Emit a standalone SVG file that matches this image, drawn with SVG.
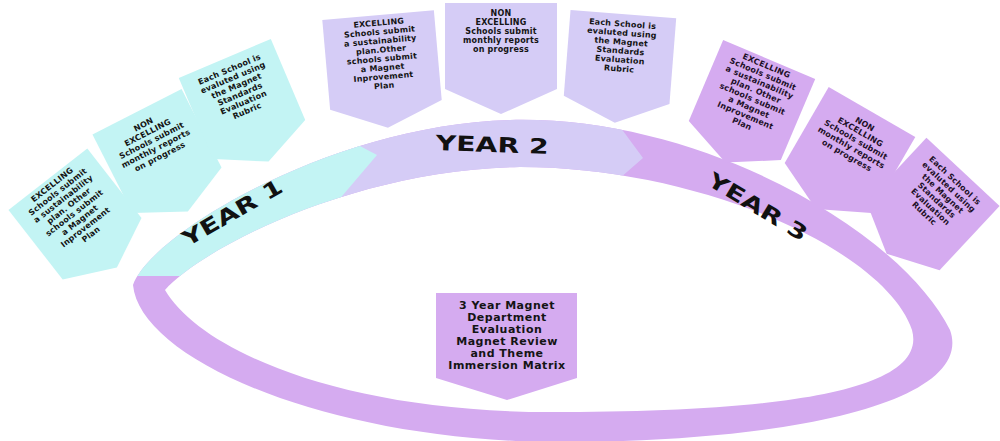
<svg xmlns="http://www.w3.org/2000/svg" width="1000" height="441" viewBox="0 0 1000 441">
<style>
.cy{fill:#c3f4f4}
.lv{fill:#d5ccf6}
.pu{fill:#d5abf0}
.t{font-family:"DejaVu Sans","Liberation Sans",sans-serif;font-weight:bold;font-size:8px;letter-spacing:0.2px;fill:#141414;text-anchor:middle}
.t3{fill:#1e1028}
.tc{font-family:"DejaVu Sans","Liberation Sans",sans-serif;font-weight:bold;font-size:11px;letter-spacing:0.5px;fill:#141414;text-anchor:middle}
.yr{font-family:"DejaVu Sans","Liberation Sans",sans-serif;font-weight:bold;font-size:21px;fill:#111;text-anchor:middle}
</style>
<defs>
<path id="ringPath" fill-rule="evenodd" d="M133,285 C150,235 330,125 510,120 C700,115 900,230 950,330 C975,400 800,442 560,442 C330,442 140,360 133,285 Z M165,290 C200,250 350,170 520,167 C700,167 885,250 912,330 C930,395 760,412 550,412 C340,412 200,350 165,290 Z"/>
<clipPath id="ringClip"><use href="#ringPath" clip-rule="evenodd"/></clipPath>
<polygon id="boxN" points="-50,-44 50,-44 50,44 0,68 -50,44"/>
</defs>
<rect width="1000" height="441" fill="#ffffff"/>

<g id="connectors">
<g id="timeline-ring">
<use href="#ringPath" class="pu"/>
<g clip-path="url(#ringClip)">
<polygon class="lv" points="320,60 600,60 600,100 615,120 643,158 620,178 600,260 320,260"/>
<polygon class="cy" points="40,276 240,276 320,222 377,155 320,125 250,60 40,60"/>
</g>
</g>
</g>

<g id="label-year1"><text class="yr" transform="translate(236,219) rotate(-30)" textLength="112" lengthAdjust="spacingAndGlyphs">YEAR 1</text></g>
<g id="label-year2"><text class="yr" transform="translate(492,152) rotate(2)" textLength="113" lengthAdjust="spacingAndGlyphs">YEAR 2</text></g>
<g id="label-year3"><text class="yr" transform="translate(754,213) rotate(31)" textLength="112" lengthAdjust="spacingAndGlyphs">YEAR 3</text></g>

<!-- Year 1 boxes -->
<g id="y1-excelling" transform="translate(75,214) rotate(-38)">
<use href="#boxN" class="cy"/>
<text class="t"><tspan x="0" y="-34.5">EXCELLING</tspan><tspan x="0" y="-25.5">Schools submit</tspan><tspan x="0" y="-16.5">a sustainability</tspan><tspan x="0" y="-7.5">plan. Other</tspan><tspan x="0" y="1.5">schools submit</tspan><tspan x="0" y="10.5">a Magnet</tspan><tspan x="0" y="19.5">Inprovement</tspan><tspan x="0" y="28.5">Plan</tspan></text>
</g>
<g id="y1-nonexcelling" transform="translate(157,151) rotate(-27)">
<use href="#boxN" class="cy"/>
<text class="t"><tspan x="0" y="-27">NON</tspan><tspan x="0" y="-18">EXCELLING</tspan><tspan x="0" y="-9">Schools submit</tspan><tspan x="0" y="0">monthly reports</tspan><tspan x="0" y="9">on progress</tspan></text>
</g>
<g id="y1-evaluated" transform="translate(242,99) rotate(-23)">
<use href="#boxN" class="cy"/>
<text class="t"><tspan x="0" y="-29.5">Each School is</tspan><tspan x="0" y="-20.5">evaluted using</tspan><tspan x="0" y="-11.5">the Magnet</tspan><tspan x="0" y="-2.5">Standards</tspan><tspan x="0" y="6.5">Evaluation</tspan><tspan x="0" y="15.5">Rubric</tspan></text>
</g>

<!-- Year 2 boxes -->
<g id="y2-excelling" transform="translate(382,60) rotate(-5)">
<polygon class="lv" points="-56,-45 56,-45 56,45 0,68 -56,45"/>
<text class="t"><tspan x="0" y="-34.5">EXCELLING</tspan><tspan x="0" y="-25.5">Schools submit</tspan><tspan x="0" y="-16.5">a sustainability</tspan><tspan x="0" y="-7.5">plan.Other</tspan><tspan x="0" y="1.5">schools submit</tspan><tspan x="0" y="10.5">a Magnet</tspan><tspan x="0" y="19.5">Inprovement</tspan><tspan x="0" y="28.5">Plan</tspan></text>
</g>
<g id="y2-nonexcelling" transform="translate(501,46)">
<polygon class="lv" points="-56,-43 56,-43 56,43 0,68 -56,43"/>
<text class="t"><tspan x="0" y="-30">NON</tspan><tspan x="0" y="-21">EXCELLING</tspan><tspan x="0" y="-12">Schools submit</tspan><tspan x="0" y="-3">monthly reports</tspan><tspan x="0" y="6">on progress</tspan></text>
</g>
<g id="y2-evaluated" transform="translate(620,57) rotate(4.5)">
<polygon class="lv" points="-53,-43 53,-43 53,43 0,66 -53,43"/>
<text class="t"><tspan x="0" y="-30.5">Each School is</tspan><tspan x="0" y="-21.5">evaluted using</tspan><tspan x="0" y="-12.5">the Magnet</tspan><tspan x="0" y="-3.5">Standards</tspan><tspan x="0" y="5.5">Evaluation</tspan><tspan x="0" y="14.5">Rubric</tspan></text>
</g>

<!-- Year 3 boxes -->
<g id="y3-excelling" transform="translate(752,100) rotate(23)">
<use href="#boxN" class="pu"/>
<text class="t t3"><tspan x="0" y="-34.5">EXCELLING</tspan><tspan x="0" y="-25.5">Schools submit</tspan><tspan x="0" y="-16.5">a sustainability</tspan><tspan x="0" y="-7.5">plan. Other</tspan><tspan x="0" y="1.5">schools submit</tspan><tspan x="0" y="10.5">a Magnet</tspan><tspan x="0" y="19.5">Inprovement</tspan><tspan x="0" y="28.5">Plan</tspan></text>
</g>
<g id="y3-nonexcelling" transform="translate(850,150) rotate(30)">
<use href="#boxN" class="pu"/>
<text class="t t3"><tspan x="0" y="-27">NON</tspan><tspan x="0" y="-18">EXCELLING</tspan><tspan x="0" y="-9">Schools submit</tspan><tspan x="0" y="0">monthly reports</tspan><tspan x="0" y="9">on progress</tspan></text>
</g>
<g id="y3-evaluated" transform="translate(933,204) rotate(43)">
<use href="#boxN" class="pu"/>
<text class="t t3"><tspan x="0" y="-29.5">Each School is</tspan><tspan x="0" y="-20.5">evaluted using</tspan><tspan x="0" y="-11.5">the Magnet</tspan><tspan x="0" y="-2.5">Standards</tspan><tspan x="0" y="6.5">Evaluation</tspan><tspan x="0" y="15.5">Rubric</tspan></text>
</g>

<!-- Center box -->
<g id="center-evaluation">
<polygon class="pu" points="436,293 577,293 577,378 507,400 436,378"/>
<text class="tc"><tspan x="507" y="309">3 Year Magnet</tspan><tspan x="507" y="321">Department</tspan><tspan x="507" y="333">Evaluation</tspan><tspan x="507" y="345">Magnet Review</tspan><tspan x="507" y="357">and Theme</tspan><tspan x="507" y="369">Immersion Matrix</tspan></text>
</g>
</svg>
